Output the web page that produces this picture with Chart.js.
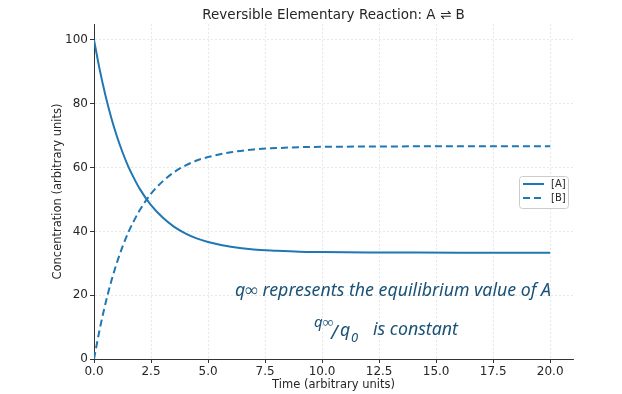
<!DOCTYPE html>
<html>
<head>
<meta charset="utf-8">
<script src="https://cdn.jsdelivr.net/npm/chart.js@4"></script>
<style>
  html, body { margin: 0; padding: 0; background: #fff; }
  #wrap { width: 622px; height: 394px; }
</style>
</head>
<body>
<div id="wrap"><canvas id="reactionChart" width="622" height="394"></canvas></div>
<script>
// values
const times = [0, 0.25, 0.5, 0.75, 1, 1.25, 1.5, 1.75, 2, 2.5, 3, 3.5, 4, 4.5, 5, 6, 7, 8, 9, 10, 12, 14, 16, 18, 20];
const concA = [100, 90.7, 82.7, 75.8, 69.9, 64.8, 60.4, 56.7, 53.4, 48.2, 44.4, 41.5, 39.4, 37.8, 36.7, 35.2, 34.3, 33.9, 33.6, 33.5, 33.4, 33.35, 33.33, 33.33, 33.33];
const concB = [0, 9.3, 17.3, 24.2, 30.1, 35.2, 39.6, 43.3, 46.6, 51.8, 55.6, 58.5, 60.6, 62.2, 63.3, 64.8, 65.7, 66.1, 66.4, 66.5, 66.6, 66.65, 66.67, 66.67, 66.67];
const seriesLabels = ['[A]', '[B]'];
const xTicks = [0, 2.5, 5, 7.5, 10, 12.5, 15, 17.5, 20];
const yTicks = [0, 20, 40, 60, 80, 100];

const blue = '#1f77b4';
const textColor = '#262626';
const noteColor = '#1a5276';

function toPoints(ys) {
    return times.map((t, i) => ({ x: t, y: ys[i] }));
}

// title, legend and the two text notes
const extras = {
    id: 'extras',
    afterDraw(chart) {
        const c = chart.ctx;
        const area = chart.chartArea;
        c.save();

        // title
        c.fillStyle = textColor;
        c.font = '13.5px "DejaVu Sans"';
        c.textAlign = 'center';
        c.textBaseline = 'middle';
        c.fillText('Reversible Elementary Reaction: A \u21CC B', (area.left + area.right) / 2, 15);

        // legend
        const lx = 519, ly = 176, lw = 49, lh = 32;
        c.fillStyle = 'rgba(255,255,255,0.85)';
        c.strokeStyle = '#cccccc';
        c.lineWidth = 1;
        c.beginPath();
        c.roundRect(lx + 0.5, ly + 0.5, lw, lh, 3);
        c.fill();
        c.stroke();
        c.font = '10px "DejaVu Sans"';
        c.textAlign = 'left';
        c.textBaseline = 'middle';
        chart.data.datasets.forEach((ds, i) => {
            const yy = ly + 8 + i * 14;
            c.strokeStyle = blue;
            c.lineWidth = 2;
            c.setLineDash(ds.borderDash || []);
            c.beginPath();
            c.moveTo(lx + 4, yy);
            c.lineTo(lx + 25, yy);
            c.stroke();
            c.setLineDash([]);
            c.fillStyle = textColor;
            c.fillText(ds.label, lx + 32, yy + 0.5);
        });

        // notes
        c.fillStyle = noteColor;
        c.textBaseline = 'alphabetic';
        const line1 = 'q\u221E represents the equilibrium value of A';
        c.font = 'italic 16px "Noto Sans"';
        const w1 = c.measureText(line1).width;
        const size1 = 16 * 316 / w1;
        const f1 = 'italic ' + size1.toFixed(2) + 'px "Noto Sans"';
        c.font = f1;
        c.textAlign = 'center';
        c.fillText(line1, 393, 296);

        c.textAlign = 'left';
        c.font = 'italic 15px "Noto Sans"';
        c.fillText('q\u221E', 314, 327);
        c.font = 'italic 19px "Noto Sans"';
        c.fillText('/', 331, 339);
        c.font = f1;
        c.fillText('q', 340, 336);
        c.font = 'italic 13px "Noto Sans"';
        c.fillText('0', 351, 342);
        c.font = f1;
        c.fillText('is constant', 373, 335);

        c.restore();
    }
};

const ctx = document.getElementById('reactionChart').getContext('2d');
const reactionChart = new Chart(ctx, {
    type: 'line',
    data: {
        datasets: [{
            label: seriesLabels[0],
            data: toPoints(concA),
            borderColor: blue,
            borderWidth: 2,
            pointRadius: 0,
            cubicInterpolationMode: 'monotone',
            fill: false
        }, {
            label: seriesLabels[1],
            data: toPoints(concB),
            borderColor: blue,
            borderWidth: 2,
            borderDash: [7, 4],
            pointRadius: 0,
            cubicInterpolationMode: 'monotone',
            fill: false
        }]
    },
    options: {
        responsive: false,
        animation: false,
        events: [],
        layout: { padding: { left: 47, top: 24, right: 49, bottom: 0 } },
        plugins: {
            legend: { display: false },
            title: { display: false },
            tooltip: { enabled: false }
        },
        scales: {
            x: {
                type: 'linear',
                min: 0,
                max: 21,
                afterFit: s => { s.height = 35; },
                afterBuildTicks: s => { s.ticks = xTicks.map(v => ({ value: v })); },
                ticks: {
                    color: textColor,
                    font: { family: 'DejaVu Sans', size: 12 },
                    padding: 2,
                    maxRotation: 0,
                    callback: v => v.toFixed(1)
                },
                grid: {
                    color: '#e2e2e2',
                    lineWidth: 0.8,
                    tickLength: 4,
                    tickColor: '#333333',
                    tickWidth: 1
                },
                border: { color: '#333333', width: 1, dash: [2, 2] },
                title: {
                    display: true,
                    text: 'Time (arbitrary units)',
                    color: textColor,
                    font: { family: 'DejaVu Sans', size: 11.5 },
                    padding: { top: 0, bottom: 2.5 }
                }
            },
            y: {
                type: 'linear',
                min: 0,
                max: 105,
                afterFit: s => { s.width = 47; },
                afterBuildTicks: s => { s.ticks = yTicks.map(v => ({ value: v })); },
                ticks: {
                    color: textColor,
                    font: { family: 'DejaVu Sans', size: 12 },
                    padding: 2
                },
                grid: {
                    color: '#e2e2e2',
                    lineWidth: 0.8,
                    tickLength: 4,
                    tickColor: '#333333',
                    tickWidth: 1
                },
                border: { color: '#333333', width: 1, dash: [2, 2] },
                title: {
                    display: true,
                    text: 'Concentration (arbitrary units)',
                    color: textColor,
                    font: { family: 'DejaVu Sans', size: 11.5 },
                    padding: { top: 4, bottom: 0 }
                }
            }
        }
    },
    plugins: [extras]
});
</script>
</body>
</html>
